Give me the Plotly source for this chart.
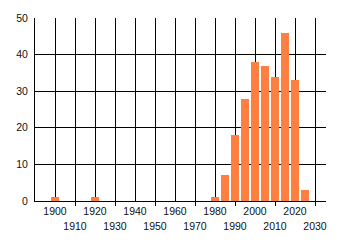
import plotly.graph_objects as go

years = [1900, 1920, 1980, 1985, 1990, 1995, 2000, 2005, 2010, 2015, 2020, 2025]
counts = [1, 1, 1, 7, 18, 28, 38, 37, 34, 46, 33, 3]
even_ticks = [1900, 1920, 1940, 1960, 1980, 2000, 2020]
odd_ticks = [1910, 1930, 1950, 1970, 1990, 2010, 2030]
y_ticks = [0, 10, 20, 30, 40, 50]

font = dict(family="Liberation Sans, Arial, sans-serif", size=10.5, color="#111111")

fig = go.Figure()
fig.add_trace(go.Bar(x=years, y=counts, width=4, marker=dict(color="#FF7F41", line=dict(width=0))))
# invisible trace to activate the second x axis
fig.add_trace(go.Scatter(x=[years[0]], y=[0], xaxis="x2", mode="markers",
                         marker=dict(opacity=0), showlegend=False, hoverinfo="skip"))

fig.update_layout(
    width=340, height=245,
    margin=dict(l=35, r=14, t=15, b=44),
    paper_bgcolor="white", plot_bgcolor="white",
    showlegend=False, font=font,
    xaxis=dict(range=[1890, 2035.5], tickvals=even_ticks, ticktext=[str(v) for v in even_ticks],
               showgrid=True, gridcolor="#000000", gridwidth=1, ticks="",
               showline=True, linecolor="#000000", linewidth=1, zeroline=False,
               tickfont=font, fixedrange=True),
    xaxis2=dict(overlaying="x", matches="x", side="bottom", range=[1890, 2035.5],
                tickvals=odd_ticks, ticktext=[str(v) for v in odd_ticks],
                showgrid=True, gridcolor="#000000", gridwidth=1,
                ticks="outside", ticklen=4, tickcolor="#000000",
                ticklabelstandoff=11, showline=False, zeroline=False, tickfont=font),
    yaxis=dict(range=[0, 50], tickvals=y_ticks, showgrid=True, gridcolor="#000000", gridwidth=1,
               showline=True, linecolor="#000000", linewidth=1, zeroline=False,
               ticks="", ticklabelstandoff=4, tickfont=font),
    bargap=0,
)

fig.write_html("out.html")
